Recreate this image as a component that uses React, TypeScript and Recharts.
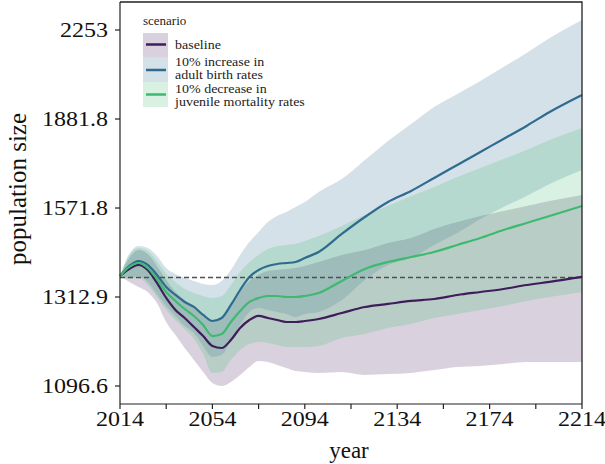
import React from 'react';
import { ComposedChart, Area, Line, XAxis, YAxis, ReferenceLine } from 'recharts';

const years = [2014, 2018, 2022, 2026, 2030, 2034, 2038, 2042, 2046, 2050, 2054, 2058, 2062, 2066, 2070, 2074, 2078, 2082, 2086, 2090, 2094, 2100, 2110, 2120, 2130, 2140, 2150, 2160, 2170, 2180, 2190, 2200, 2214];

const baselineMean = [1370.0, 1389.4, 1400.8, 1386.6, 1350.7, 1310.3, 1278.8, 1258.3, 1235.6, 1213.1, 1189.0, 1184.2, 1203.5, 1233.1, 1253.2, 1263.5, 1258.3, 1253.2, 1248.2, 1248.2, 1250.7, 1255.8, 1271.1, 1286.7, 1294.6, 1302.4, 1307.6, 1318.3, 1326.3, 1334.3, 1345.2, 1353.5, 1367.2];
const baselineLow = [1370.0, 1353.4, 1339.8, 1326.3, 1297.1, 1248.2, 1215.8, 1184.2, 1155.8, 1128.2, 1103.3, 1096.6, 1105.6, 1121.4, 1139.6, 1153.5, 1151.2, 1144.3, 1137.3, 1130.4, 1128.2, 1125.9, 1128.2, 1121.4, 1123.6, 1125.9, 1132.7, 1139.6, 1141.9, 1146.6, 1151.2, 1151.2, 1151.2];
const baselineHigh = [1370.0, 1420.7, 1443.9, 1432.3, 1397.9, 1358.9, 1326.3, 1305.0, 1286.7, 1268.6, 1253.2, 1258.3, 1289.3, 1326.3, 1356.2, 1372.8, 1383.8, 1386.6, 1389.4, 1392.3, 1397.9, 1409.2, 1429.4, 1443.9, 1464.6, 1479.4, 1506.6, 1528.1, 1546.8, 1562.5, 1578.4, 1594.3, 1614.0];

const birthMean = [1370.0, 1397.9, 1412.1, 1400.8, 1372.8, 1339.6, 1318.3, 1299.8, 1286.7, 1266.0, 1250.7, 1258.3, 1291.9, 1331.6, 1367.2, 1386.6, 1397.9, 1403.6, 1406.4, 1409.2, 1420.7, 1438.1, 1491.5, 1543.4, 1591.1, 1626.9, 1670.3, 1714.8, 1760.5, 1807.4, 1855.6, 1908.9, 1975.7];
const birthLow = [1370.0, 1364.4, 1370.0, 1353.4, 1321.0, 1289.3, 1263.4, 1238.1, 1220.7, 1189.0, 1162.9, 1167.6, 1203.5, 1240.7, 1273.7, 1284.0, 1278.8, 1273.7, 1268.6, 1260.9, 1268.6, 1273.7, 1305.0, 1358.9, 1400.8, 1420.7, 1458.7, 1494.5, 1537.3, 1575.2, 1610.6, 1650.2, 1697.5];
const birthHigh = [1370.0, 1432.3, 1455.7, 1449.8, 1426.5, 1392.3, 1375.5, 1364.4, 1356.2, 1348.0, 1345.3, 1356.2, 1386.6, 1429.4, 1467.5, 1497.5, 1528.1, 1546.8, 1559.3, 1575.2, 1591.1, 1623.7, 1666.9, 1732.2, 1800.1, 1863.2, 1928.3, 1979.7, 2032.4, 2090.9, 2150.9, 2217.1, 2299.3];

const juvMean = [1370.0, 1395.1, 1406.4, 1392.3, 1361.6, 1326.3, 1302.4, 1281.4, 1263.5, 1240.6, 1213.1, 1218.1, 1248.2, 1276.2, 1299.8, 1310.3, 1315.6, 1315.6, 1312.9, 1312.9, 1315.6, 1323.6, 1356.2, 1389.4, 1409.2, 1423.6, 1438.1, 1458.6, 1479.4, 1503.5, 1525.0, 1546.6, 1578.4];
const juvLow = [1370.0, 1361.6, 1364.4, 1345.3, 1312.9, 1278.8, 1253.2, 1230.6, 1206.0, 1170.0, 1125.8, 1128.2, 1155.8, 1179.4, 1193.9, 1198.7, 1196.3, 1191.4, 1186.6, 1186.6, 1186.6, 1189.0, 1208.4, 1218.3, 1233.1, 1243.2, 1258.3, 1268.6, 1278.8, 1289.3, 1302.4, 1312.9, 1326.3];
const juvHigh = [1370.0, 1429.4, 1449.8, 1441.0, 1412.1, 1375.5, 1353.4, 1334.3, 1323.6, 1315.6, 1310.3, 1315.6, 1345.3, 1381.1, 1409.2, 1429.4, 1446.9, 1455.7, 1458.7, 1461.6, 1470.5, 1485.4, 1515.8, 1549.9, 1578.4, 1610.6, 1640.2, 1673.7, 1704.4, 1735.7, 1767.6, 1803.7, 1848.1];

const yTicks = [1096.6, 1312.9, 1571.8, 1881.8, 2253];
const xTicks = [2014, 2034, 2054, 2074, 2094, 2114, 2134, 2154, 2174, 2194, 2214];
const xLabelYears = [2014, 2054, 2094, 2134, 2174, 2214];
const referenceLevel = 1366;
const yDomain = [1057.4, 2384.3];

const legendTitle = 'scenario';
const legendItems = [
  { lines: ['baseline'] },
  { lines: ['10% increase in', 'adult birth rates'] },
  { lines: ['10% decrease in', 'juvenile mortality rates'] },
];

const C_BASE = '#3f1d5a';
const C_BIRTH = '#2f6b8e';
const C_JUV = '#3dba70';
const BAND_OP = 0.2;

const SERIF = '"Liberation Serif", "Times New Roman", Times, serif';
const serifStyle = { fontFamily: SERIF };

// chart frame (layout only)
const PLOT = { left: 120, top: 2, right: 582, bottom: 404 };

const data = years.map((year, i) => ({
  year,
  baseline: baselineMean[i],
  baselineBand: [baselineLow[i], baselineHigh[i]],
  birth: birthMean[i],
  birthBand: [birthLow[i], birthHigh[i]],
  juv: juvMean[i],
  juvBand: [juvLow[i], juvHigh[i]],
}));

const XTick = (props: any) => {
  const { x, y, payload } = props;
  if (!xLabelYears.includes(payload.value)) return <g />;
  return (
    <text
      x={x}
      y={y}
      dy="0.71em"
      textAnchor="middle"
      style={serifStyle}
      fontSize={20}
      fill="#111"
      transform={`translate(${x} ${y}) scale(1.2 1) translate(${-x} ${-y})`}
    >
      {payload.value}
    </text>
  );
};

const YTick = (props: any) => {
  const { x, y, payload } = props;
  return (
    <text
      x={x}
      y={y}
      dy="0.355em"
      textAnchor="end"
      style={serifStyle}
      fontSize={20}
      fill="#111"
      transform={`translate(${x} ${y}) scale(1.2 1) translate(${-x} ${-y})`}
    >
      {payload.value}
    </text>
  );
};

const YLabel = () => (
  <text
    x={0}
    y={0}
    textAnchor="middle"
    style={serifStyle}
    fontSize={25}
    fill="#111"
    transform="translate(26 189) rotate(-90)"
  >
    population size
  </text>
);

const XLabel = () => (
  <text x={349} y={458} textAnchor="middle" style={serifStyle} fontSize={23} fill="#111">
    year
  </text>
);

const legendColors = [C_BASE, C_BIRTH, C_JUV];

export default function App() {
  return (
    <div style={{ position: 'absolute', left: 0, top: 0, width: 605, height: 464, background: '#fff' }}>
      <ComposedChart
        width={605}
        height={464}
        data={data}
        margin={{ top: 2, right: 23, bottom: 0, left: 0 }}
      >
        <XAxis
          dataKey="year"
          type="number"
          domain={[2014, 2214]}
          ticks={xTicks}
          tick={<XTick />}
          tickSize={5}
          tickMargin={3}
          height={60}
          stroke="#222"
          strokeWidth={1.2}
          interval={0}
          label={<XLabel />}
        />
        <YAxis
          type="number"
          scale="log"
          domain={yDomain}
          allowDataOverflow
          ticks={yTicks}
          tick={<YTick />}
          tickSize={5}
          tickMargin={7}
          width={120}
          stroke="#222"
          strokeWidth={1.2}
          interval={0}
          label={<YLabel />}
        />
        <Area
          type="monotone"
          dataKey="baselineBand"
          fill={C_BASE}
          fillOpacity={BAND_OP}
          stroke="none"
          isAnimationActive={false}
        />
        <Area
          type="monotone"
          dataKey="birthBand"
          fill={C_BIRTH}
          fillOpacity={BAND_OP}
          stroke="none"
          isAnimationActive={false}
        />
        <Area
          type="monotone"
          dataKey="juvBand"
          fill={C_JUV}
          fillOpacity={BAND_OP}
          stroke="none"
          isAnimationActive={false}
        />
        <ReferenceLine y={referenceLevel} stroke="#505050" strokeWidth={1.5} strokeDasharray="5 3" />
        <Line type="monotone" dataKey="baseline" stroke={C_BASE} strokeWidth={2.2} dot={false} isAnimationActive={false} />
        <Line type="monotone" dataKey="birth" stroke={C_BIRTH} strokeWidth={2.2} dot={false} isAnimationActive={false} />
        <Line type="monotone" dataKey="juv" stroke={C_JUV} strokeWidth={2.2} dot={false} isAnimationActive={false} />
      </ComposedChart>
      <svg
        width={605}
        height={464}
        style={{ position: 'absolute', left: 0, top: 0, pointerEvents: 'none' }}
      >
        <polyline
          points={`${PLOT.left},${PLOT.top} ${PLOT.right},${PLOT.top} ${PLOT.right},${PLOT.bottom}`}
          fill="none"
          stroke="#222"
          strokeWidth={1.3}
        />
        <text x={143} y={25} style={serifStyle} fontSize={13} fill="#222">{legendTitle}</text>
        {legendItems.map((item, i) => {
          const top = [33, 57.5, 82][i];
          const h = [24.5, 24.5, 25][i];
          const lineY = [44.5, 70, 94.5][i];
          const textY = item.lines.length === 1 ? [49.5] : i === 1 ? [66.5, 79.5] : [93, 106];
          return (
            <g key={i}>
              <rect x={143} y={top} width={25} height={h} fill={legendColors[i]} fillOpacity={BAND_OP} />
              <line x1={146} x2={166} y1={lineY} y2={lineY} stroke={legendColors[i]} strokeWidth={2.5} />
              {item.lines.map((t, j) => (
                <text
                  key={j}
                  x={175}
                  y={textY[j]}
                  style={serifStyle}
                  fontSize={12.5}
                  fill="#222"
                  transform={`translate(175 0) scale(1.12 1) translate(-175 0)`}
                >
                  {t}
                </text>
              ))}
            </g>
          );
        })}
      </svg>
    </div>
  );
}
